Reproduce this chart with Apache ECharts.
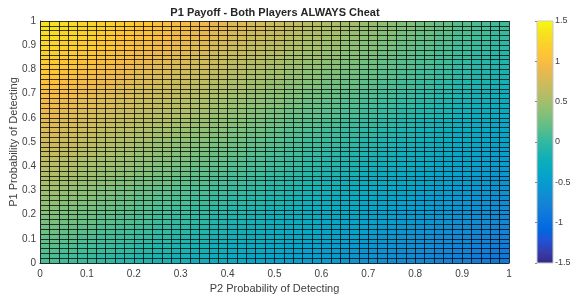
<!DOCTYPE html>
<html>
<head>
<meta charset="utf-8">
<script src="https://cdn.jsdelivr.net/npm/echarts@6/dist/echarts.min.js"></script>
<style>
html, body { margin: 0; padding: 0; background: #fff; }
#main { width: 572px; height: 296px; }
</style>
</head>
<body>
<div id="main"></div>
<script>
// cell lower-left corners (P2 detect on x, P1 detect on y)
var p2Detect = [0, 0.04, 0.08, 0.12, 0.16, 0.2, 0.24, 0.28, 0.32, 0.36, 0.4, 0.44, 0.48,
    0.52, 0.56, 0.6, 0.64, 0.68, 0.72, 0.76, 0.8, 0.84, 0.88, 0.92, 0.96];
var p1Detect = [0, 0.04, 0.08, 0.12, 0.16, 0.2, 0.24, 0.28, 0.32, 0.36, 0.4, 0.44, 0.48,
    0.52, 0.56, 0.6, 0.64, 0.68, 0.72, 0.76, 0.8, 0.84, 0.88, 0.92, 0.96];
var cellSize = 0.04;

// P1 payoff, one row per p1Detect value (bottom row first)
var payoffRows = [
    [0.11,0.06,0.02,-0.02,-0.06,-0.10,-0.14,-0.18,-0.22,-0.26,-0.31,-0.35,-0.39,-0.43,-0.47,-0.51,-0.55,-0.59,-0.63,-0.68,-0.72,-0.76,-0.80,-0.84,-0.88],
    [0.16,0.12,0.07,0.03,-0.01,-0.05,-0.09,-0.13,-0.18,-0.22,-0.26,-0.30,-0.34,-0.38,-0.43,-0.47,-0.51,-0.55,-0.59,-0.63,-0.67,-0.72,-0.76,-0.80,-0.84],
    [0.21,0.17,0.12,0.08,0.04,0.00,-0.04,-0.09,-0.13,-0.17,-0.21,-0.25,-0.30,-0.34,-0.38,-0.42,-0.46,-0.51,-0.55,-0.59,-0.63,-0.68,-0.72,-0.76,-0.80],
    [0.26,0.22,0.18,0.13,0.09,0.05,0.00,-0.04,-0.08,-0.12,-0.17,-0.21,-0.25,-0.29,-0.34,-0.38,-0.42,-0.46,-0.51,-0.55,-0.59,-0.64,-0.68,-0.72,-0.76],
    [0.31,0.27,0.23,0.18,0.14,0.10,0.05,0.01,-0.03,-0.08,-0.12,-0.16,-0.21,-0.25,-0.29,-0.34,-0.38,-0.42,-0.46,-0.51,-0.55,-0.59,-0.64,-0.68,-0.72],
    [0.36,0.32,0.28,0.23,0.19,0.15,0.10,0.06,0.01,-0.03,-0.07,-0.12,-0.16,-0.20,-0.25,-0.29,-0.34,-0.38,-0.42,-0.47,-0.51,-0.55,-0.60,-0.64,-0.68],
    [0.42,0.37,0.33,0.28,0.24,0.19,0.15,0.11,0.06,0.02,-0.03,-0.07,-0.11,-0.16,-0.20,-0.25,-0.29,-0.34,-0.38,-0.42,-0.47,-0.51,-0.56,-0.60,-0.65],
    [0.47,0.42,0.38,0.33,0.29,0.24,0.20,0.15,0.11,0.06,0.02,-0.02,-0.07,-0.11,-0.16,-0.20,-0.25,-0.29,-0.34,-0.38,-0.43,-0.47,-0.52,-0.56,-0.61],
    [0.52,0.47,0.43,0.38,0.34,0.29,0.25,0.20,0.16,0.11,0.07,0.02,-0.02,-0.07,-0.11,-0.16,-0.21,-0.25,-0.30,-0.34,-0.39,-0.43,-0.48,-0.52,-0.57],
    [0.57,0.53,0.48,0.43,0.39,0.34,0.30,0.25,0.20,0.16,0.11,0.07,0.02,-0.02,-0.07,-0.12,-0.16,-0.21,-0.25,-0.30,-0.35,-0.39,-0.44,-0.48,-0.53],
    [0.62,0.58,0.53,0.48,0.44,0.39,0.34,0.30,0.25,0.21,0.16,0.11,0.07,0.02,-0.03,-0.07,-0.12,-0.17,-0.21,-0.26,-0.30,-0.35,-0.40,-0.44,-0.49],
    [0.67,0.63,0.58,0.53,0.49,0.44,0.39,0.35,0.30,0.25,0.21,0.16,0.11,0.07,0.02,-0.03,-0.08,-0.12,-0.17,-0.22,-0.26,-0.31,-0.36,-0.40,-0.45],
    [0.73,0.68,0.63,0.58,0.54,0.49,0.44,0.39,0.35,0.30,0.25,0.20,0.16,0.11,0.06,0.02,-0.03,-0.08,-0.13,-0.17,-0.22,-0.27,-0.32,-0.36,-0.41],
    [0.78,0.73,0.68,0.63,0.59,0.54,0.49,0.44,0.39,0.35,0.30,0.25,0.20,0.15,0.11,0.06,0.01,-0.04,-0.08,-0.13,-0.18,-0.23,-0.28,-0.32,-0.37],
    [0.83,0.78,0.73,0.68,0.64,0.59,0.54,0.49,0.44,0.39,0.35,0.30,0.25,0.20,0.15,0.10,0.05,0.01,-0.04,-0.09,-0.14,-0.19,-0.24,-0.28,-0.33],
    [0.88,0.83,0.78,0.73,0.69,0.64,0.59,0.54,0.49,0.44,0.39,0.34,0.29,0.24,0.20,0.15,0.10,0.05,0.00,-0.05,-0.10,-0.15,-0.20,-0.25,-0.29],
    [0.93,0.88,0.83,0.78,0.74,0.69,0.64,0.59,0.54,0.49,0.44,0.39,0.34,0.29,0.24,0.19,0.14,0.09,0.04,-0.01,-0.06,-0.11,-0.16,-0.21,-0.26],
    [0.98,0.94,0.88,0.83,0.78,0.73,0.68,0.63,0.58,0.53,0.48,0.43,0.38,0.33,0.28,0.23,0.18,0.13,0.08,0.03,-0.02,-0.07,-0.12,-0.17,-0.22],
    [1.04,0.99,0.94,0.89,0.83,0.78,0.73,0.68,0.63,0.58,0.53,0.48,0.43,0.38,0.33,0.28,0.23,0.18,0.13,0.08,0.03,-0.03,-0.08,-0.13,-0.18],
    [1.09,1.04,0.99,0.94,0.88,0.83,0.78,0.73,0.68,0.63,0.58,0.53,0.48,0.42,0.37,0.32,0.27,0.22,0.17,0.12,0.07,0.02,-0.04,-0.09,-0.14],
    [1.14,1.09,1.04,0.99,0.93,0.88,0.83,0.78,0.73,0.68,0.62,0.57,0.52,0.47,0.42,0.37,0.31,0.26,0.21,0.16,0.11,0.06,0.00,-0.05,-0.10],
    [1.19,1.14,1.09,1.04,0.98,0.93,0.88,0.83,0.77,0.72,0.67,0.62,0.57,0.51,0.46,0.41,0.36,0.31,0.25,0.20,0.15,0.10,0.04,-0.01,-0.06],
    [1.24,1.19,1.14,1.09,1.03,0.98,0.93,0.87,0.82,0.77,0.72,0.66,0.61,0.56,0.51,0.45,0.40,0.35,0.30,0.24,0.19,0.14,0.08,0.03,-0.02],
    [1.30,1.24,1.19,1.14,1.08,1.03,0.98,0.92,0.87,0.82,0.76,0.71,0.66,0.60,0.55,0.50,0.44,0.39,0.34,0.28,0.23,0.18,0.12,0.07,0.02],
    [1.35,1.29,1.24,1.19,1.13,1.08,1.02,0.97,0.92,0.86,0.81,0.76,0.70,0.65,0.59,0.54,0.49,0.43,0.38,0.33,0.27,0.22,0.16,0.11,0.06]
];

// colour scale (parula)
var cMin = -1.5, cMax = 1.5;
var parula = ['#352a87', '#353dad', '#2053d4', '#0268e1', '#0d75dc', '#1481d6',
    '#108ed2', '#079ccf', '#06a7c6', '#0faeb9', '#25b5a9', '#42bb98', '#65be86',
    '#87bf77', '#a5be6b', '#c0bc60', '#d9ba56', '#f1b94a', '#ffc337', '#fad32a',
    '#f5e41d', '#f9fb0e'];

var cells = [];
for (var j = 0; j < p1Detect.length; j++) {
    for (var i = 0; i < p2Detect.length; i++) {
        cells.push([p2Detect[i], p1Detect[j], payoffRows[j][i]]);
    }
}

var font = 'Liberation Sans, Arial, sans-serif';
var txtColor = '#404040';
var gridLine = { color: 'rgba(0,0,0,0.75)', width: 1 };

var stops = parula.map(function (c, k) {
    return { offset: k / (parula.length - 1), color: c };
});

var chart = echarts.init(document.getElementById('main'));
chart.setOption({
    animation: false,
    backgroundColor: '#fff',
    graphic: [{
        type: 'text',
        x: 275, y: 13,
        style: {
            text: 'P1 Payoff - Both Players ALWAYS Cheat',
            font: 'bold 11px ' + font,
            fill: '#262626',
            align: 'center',
            verticalAlign: 'middle'
        }
    }],
    grid: [
        { left: 40, right: 63, top: 21, bottom: 33, outerBoundsMode: 'none', containLabel: false },
        {
            left: 537, top: 21, width: 16, height: 242, show: true,
            outerBoundsMode: 'none', containLabel: false,
            borderColor: '#c8c8c8', borderWidth: 1,
            backgroundColor: { type: 'linear', x: 0, y: 1, x2: 0, y2: 0, colorStops: stops }
        }
    ],
    visualMap: {
        show: false, type: 'continuous', min: cMin, max: cMax,
        dimension: 2, seriesIndex: 0,
        inRange: { color: parula }
    },
    xAxis: [{
        gridIndex: 0, type: 'value', min: 0, max: 1, interval: 0.1, z: 10,
        name: 'P2 Probability of Detecting', nameLocation: 'middle', nameGap: 19,
        nameTextStyle: { fontFamily: font, fontSize: 11, color: txtColor },
        axisLine: { show: true, lineStyle: { color: '#262626' } },
        axisTick: { show: true, inside: true, length: 3, lineStyle: { color: '#262626' } },
        axisLabel: { fontFamily: font, fontSize: 10, color: txtColor, margin: 6 },
        splitLine: { show: true, lineStyle: gridLine },
        minorTick: { show: false, splitNumber: 5 },
        minorSplitLine: { show: true, lineStyle: gridLine }
    }, {
        gridIndex: 1, type: 'value', min: 0, max: 1, show: false
    }],
    yAxis: [{
        gridIndex: 0, type: 'value', min: 0, max: 1, interval: 0.1, z: 10,
        name: 'P1 Probability of Detecting', nameLocation: 'middle', nameGap: 21, nameRotate: 90,
        nameMoveOverlap: false,
        nameTextStyle: { fontFamily: font, fontSize: 11, color: txtColor },
        axisLine: { show: true, lineStyle: { color: '#262626' } },
        axisTick: { show: true, inside: true, length: 3, lineStyle: { color: '#262626' } },
        axisLabel: { fontFamily: font, fontSize: 10, color: txtColor, margin: 4 },
        splitLine: { show: true, lineStyle: gridLine },
        minorTick: { show: false, splitNumber: 5 },
        minorSplitLine: { show: true, lineStyle: gridLine }
    }, {
        gridIndex: 1, type: 'value', min: cMin, max: cMax, interval: 0.5, position: 'right',
        axisLine: { show: false },
        axisTick: { show: true, inside: true, length: 2, lineStyle: { color: '#888' } },
        axisLabel: { fontFamily: font, fontSize: 9, color: txtColor, margin: 2 },
        splitLine: { show: false }
    }],
    series: [{
        type: 'custom',
        xAxisIndex: 0, yAxisIndex: 0,
        encode: { x: 0, y: 1 },
        renderItem: function (params, api) {
            var topLeft = api.coord([api.value(0), api.value(1) + cellSize]);
            var size = api.size([cellSize, cellSize]);
            return {
                type: 'rect',
                shape: { x: topLeft[0], y: topLeft[1], width: size[0] + 0.5, height: size[1] + 0.5 },
                style: { fill: api.visual('color') }
            };
        },
        data: cells
    }]
});
</script>
</body>
</html>
